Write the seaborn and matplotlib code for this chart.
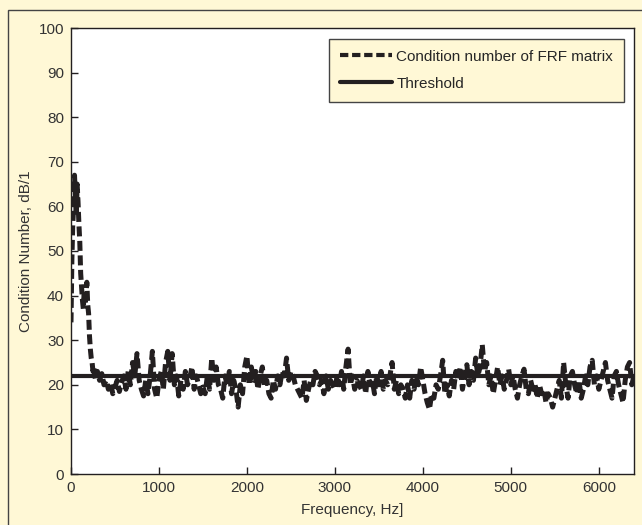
import numpy as np
import pandas as pd
import matplotlib.pyplot as plt
import seaborn as sns
from matplotlib.patches import Rectangle

# ---------- data ----------
# low band 0..290 Hz, every 10 Hz
low_freq_step = 10
low_vals = [34, 48, 56, 60, 67, 62, 58, 65, 61, 56,
            52, 45, 42, 39, 37, 41, 38, 40, 43, 38,
            36, 31, 28, 26, 25, 23, 24, 22, 21, 23]

# rest of the band 300..6400 Hz, every 25 Hz
high_freq_step = 25
high_vals = [
    23, 21, 22.5, 20, 21, 19, 20.5, 18, 19.5, 21, 18.5, 20.5, 22, 19, 23, 20, 25, 22, 27, 21,
    19, 17.5, 21, 18, 22, 27.5, 19, 17, 21, 23, 19, 25, 27.5, 21, 27, 20, 22, 17.5, 21, 19,
    23, 20, 21.5, 24, 19, 22, 20, 18, 19.5, 18, 22, 19, 26, 21, 24, 20, 19, 17, 22, 20,
    23, 18, 21, 19, 15, 20, 18, 24, 26.5, 20, 24, 21, 23, 19, 22, 24, 19.5, 21, 18, 17,
    21, 19, 22, 20, 23, 22, 26, 21, 23, 22, 20, 19, 18, 17, 21, 16.5, 19, 21, 20, 23,
    22, 20, 21, 18, 22, 19, 21, 20, 19, 22, 20, 23, 19, 24, 28, 20, 22, 19, 21, 20,
    19, 22, 18, 23, 20, 21, 18, 22, 20, 23, 19, 21, 20, 22, 25, 19, 21, 18, 20, 19,
    17, 20, 17, 21, 19, 22, 20, 24, 21, 18, 16, 14.5, 18, 17, 20, 19, 22, 25.5, 18, 20,
    17.5, 21, 19, 23, 21, 24, 19, 22, 24.5, 20, 23, 21, 26, 22, 24, 29, 23, 25, 20, 22,
    18, 21, 24, 20, 22, 19, 21, 23.5, 20, 22, 19, 17, 20, 22, 23.5, 19, 18, 21, 19, 20,
    17, 20, 18, 19, 16, 18, 17, 15, 17, 19, 21, 17, 25, 20, 17, 22, 23, 20, 18, 21,
    17, 19, 22, 20, 24, 25.5, 20, 22, 19, 21, 23, 25, 21, 19, 17, 22, 23, 20, 18, 16,
    21, 24, 25, 20, 22,
]

threshold = 22
x_ticks = [0, 1000, 2000, 3000, 4000, 5000, 6000]
y_ticks = [0, 10, 20, 30, 40, 50, 60, 70, 80, 90, 100]

freq = np.concatenate([np.arange(len(low_vals)) * low_freq_step,
                       300 + np.arange(len(high_vals)) * high_freq_step])
cond = np.array(low_vals + high_vals, dtype=float)
df = pd.DataFrame({'freq': freq, 'cond': cond})
df_thr = pd.DataFrame({'freq': [0, 6400], 'cond': [threshold, threshold]})

# ---------- style ----------
sns.set_style('ticks')
plt.rcParams['font.family'] = ['Liberation Sans', 'DejaVu Sans']
cream = '#fff8d6'
ink = '#231f20'

fig = plt.figure(figsize=(6.42, 5.25), dpi=100, facecolor=cream)
ax = fig.add_axes([71 / 642, 1 - 474 / 525, 563 / 642, 446 / 525])
ax.set_facecolor('white')

# outer frame of the figure panel
fig.patches.append(Rectangle((8 / 642, -0.01), 1.0, 1 - 10 / 525 + 0.01,
                             transform=fig.transFigure, fill=False,
                             edgecolor='#444444', lw=1.0))

sns.lineplot(data=df, x='freq', y='cond', ax=ax, color=ink, lw=3.6,
             label='Condition number of FRF matrix')
ax.lines[-1].set_dashes((2.0, 0.9))
sns.lineplot(data=df_thr, x='freq', y='cond', ax=ax, color=ink, lw=3.0,
             label='Threshold')

ax.set_xlim(0, 6400)
ax.set_ylim(0, 100)
ax.set_xticks(x_ticks)
ax.set_yticks(y_ticks)
ax.tick_params(direction='in', length=5, width=1, colors=ink,
               labelsize=11, labelcolor='#333333', pad=5)
for s in ax.spines.values():
    s.set_color(ink)
    s.set_linewidth(1.0)

ax.set_xlabel('Frequency, Hz]', fontsize=11, color='#333333', labelpad=6)
ax.set_ylabel('Condition Number, dB/1', fontsize=11, color='#333333', labelpad=4)

leg = ax.legend(loc='upper right', bbox_to_anchor=(0.982, 0.975), borderaxespad=0,
                fontsize=11, frameon=True, fancybox=False, framealpha=1,
                facecolor=cream, edgecolor='#444444', handlelength=3.4,
                borderpad=0.7, labelspacing=0.85, handletextpad=0.3)
leg.get_frame().set_linewidth(1.0)
for h in leg.get_lines():
    h.set_linewidth(3.0)

fig.savefig('out.png', dpi=100, facecolor=cream)
